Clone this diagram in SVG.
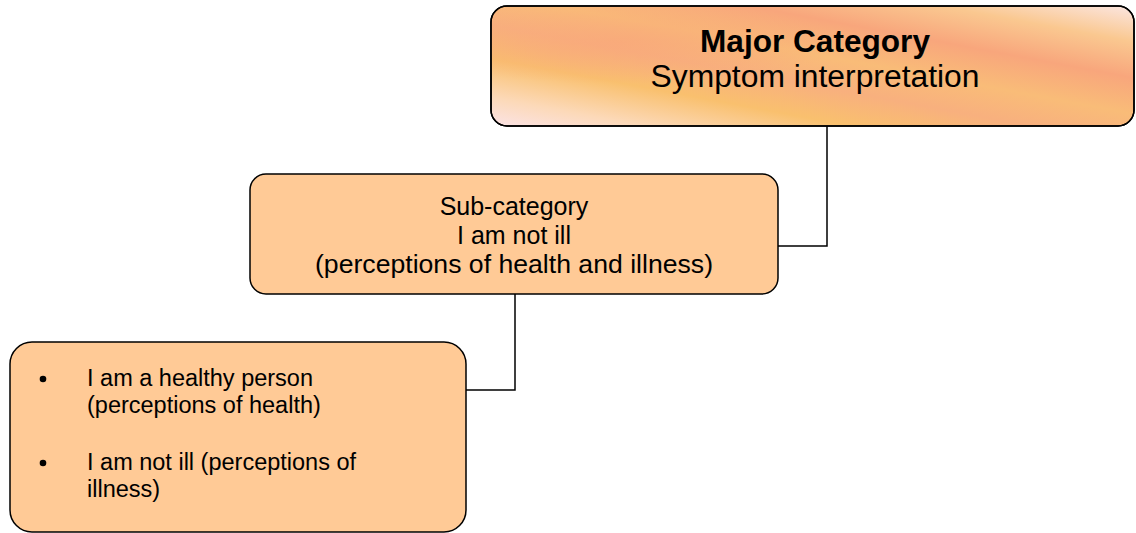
<svg xmlns="http://www.w3.org/2000/svg" width="1136" height="533" viewBox="0 0 1136 533">
  <style>
    .box { stroke: #000; stroke-width: 1.5; }
    .plain { fill: #FFCA96; }
    .link { fill: none; stroke: #000; stroke-width: 1.5; }
    text { font-family: "Liberation Sans", Arial, sans-serif; fill: #000; }
    .t1 { font-size: 31px; text-anchor: middle; }
    .t2 { font-size: 25px; text-anchor: middle; }
    .t3 { font-size: 23.5px; }
  </style>
  <defs>
    <linearGradient id="warm" x1="0" y1="1" x2="1" y2="0">
      <stop offset="0" stop-color="#FBE3E6"/>
      <stop offset="0.12" stop-color="#FCD9B8"/>
      <stop offset="0.28" stop-color="#F9C06E"/>
      <stop offset="0.42" stop-color="#F8B07E"/>
      <stop offset="0.55" stop-color="#F9BC78"/>
      <stop offset="0.7" stop-color="#F8A67C"/>
      <stop offset="0.85" stop-color="#FAC890"/>
      <stop offset="1" stop-color="#FBE6E2"/>
    </linearGradient>
    <radialGradient id="glow" cx="0.2" cy="0.3" r="0.35">
      <stop offset="0" stop-color="#F9A77A" stop-opacity="0.7"/>
      <stop offset="1" stop-color="#F9A77A" stop-opacity="0"/>
    </radialGradient>
  </defs>

  <g id="connectors">
    <polyline class="link" points="827,126 827,246 778,246"/>
    <polyline class="link" points="515,294 515,390 466,390"/>
  </g>

  <g id="major">
    <rect class="box" x="491" y="6" width="643" height="120" rx="16" fill="url(#warm)"/>
    <rect x="491" y="6" width="643" height="120" rx="16" fill="url(#glow)"/>
    <rect class="box" x="491" y="6" width="643" height="120" rx="16" fill="none"/>
    <text class="t1" x="815" y="52" font-weight="bold" textLength="230" lengthAdjust="spacingAndGlyphs">Major Category</text>
    <text class="t1" x="815" y="87" textLength="329" lengthAdjust="spacingAndGlyphs">Symptom interpretation</text>
  </g>

  <g id="sub">
    <rect class="box plain" x="250" y="174" width="528" height="120" rx="16"/>
    <text class="t2" x="514" y="215">Sub-category</text>
    <text class="t2" x="514" y="244">I am not ill</text>
    <text class="t2" x="514" y="273" textLength="398" lengthAdjust="spacingAndGlyphs">(perceptions of health and illness)</text>
  </g>

  <g id="items">
    <rect class="box plain" x="10" y="342" width="456" height="190" rx="22"/>
    <circle cx="43" cy="379" r="3.3" fill="#000"/>
    <circle cx="43" cy="463" r="3.3" fill="#000"/>
    <text class="t3" x="87" y="386">I am a healthy person</text>
    <text class="t3" x="87" y="413">(perceptions of health)</text>
    <text class="t3" x="87" y="470">I am not ill (perceptions of</text>
    <text class="t3" x="87" y="497">illness)</text>
  </g>
</svg>
